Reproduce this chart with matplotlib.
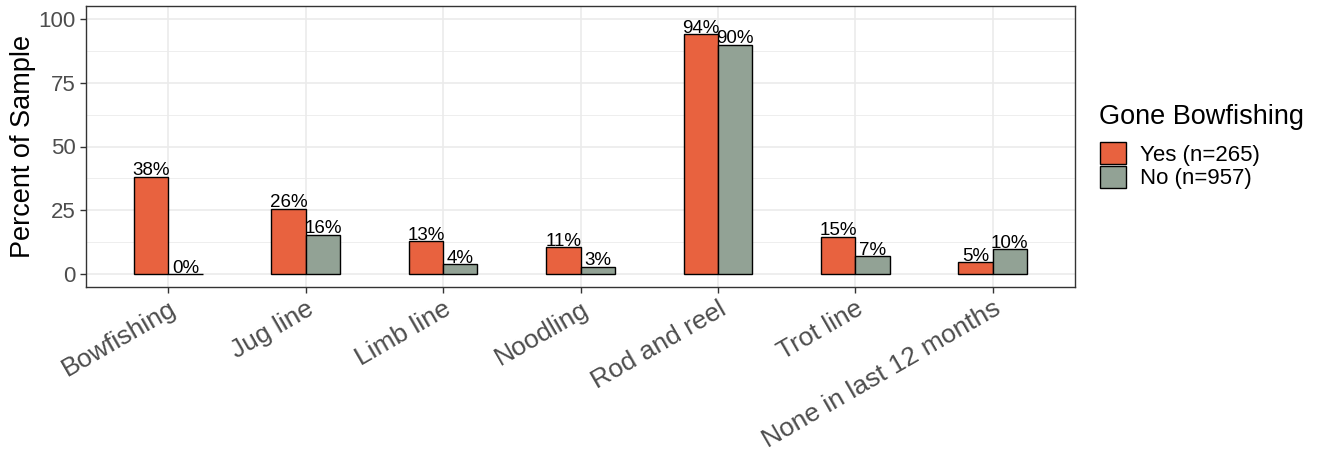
import matplotlib
matplotlib.use("Agg")
import matplotlib.pyplot as plt
import numpy as np
from matplotlib.patches import Patch
from matplotlib.ticker import MultipleLocator

plt.rcParams['font.family'] = ['Liberation Sans', 'DejaVu Sans']

categories = ["Bowfishing", "Jug line", "Limb line", "Noodling", "Rod and reel",
              "Trot line", "None in last 12 months"]
yes_vals = [38.1, 25.6, 12.9, 10.6, 94.0, 14.6, 4.8]
no_vals = [0.0, 15.5, 3.9, 2.9, 89.8, 7.1, 9.8]
series_labels = ["Yes (n=265)", "No (n=957)"]
legend_title = "Gone Bowfishing"
colors = ["#E8623F", "#92A295"]

fig = plt.figure(figsize=(13.25, 4.54), dpi=100)
ax = fig.add_axes([86/1325, 1-287/454, (1075-86)/1325, (287-6)/454])

x = np.arange(len(categories))
w = 0.25
for vals, off, c in [(yes_vals, -w/2, colors[0]), (no_vals, w/2, colors[1])]:
    ax.bar(x + off, vals, width=w, color=c, edgecolor="black", linewidth=1.0, zorder=3)
    for xi, v in zip(x + off, vals):
        ax.text(xi, v - 1.0, f"{round(v):d}%", ha="center", va="bottom",
                fontsize=13.5, color="black", zorder=4)

ax.set_xlim(-0.6, len(categories) - 0.4)
ax.set_ylim(-5, 105)
ax.yaxis.set_major_locator(MultipleLocator(25))
ax.yaxis.set_minor_locator(MultipleLocator(12.5))
ax.set_xticks(x)
ax.set_xticklabels(categories, rotation=30, ha="right", rotation_mode="anchor",
                   fontsize=19, color="#4D4D4D")
ax.tick_params(axis="y", labelsize=16, colors="#333333", length=4, width=1)
ax.tick_params(axis="x", length=4, width=1, colors="#333333", pad=3)
for lab in ax.get_xticklabels():
    lab.set_color("#4D4D4D")
for lab in ax.get_yticklabels():
    lab.set_color("#4D4D4D")
ax.tick_params(axis="y", which="minor", length=0)

ax.grid(True, which="major", color="#EBEBEB", linewidth=1.2, zorder=0)
ax.grid(True, which="minor", axis="y", color="#EBEBEB", linewidth=0.6, zorder=0)
ax.set_axisbelow(True)
for s in ax.spines.values():
    s.set_color("#333333")
    s.set_linewidth(1.0)

ax.set_ylabel("Percent of Sample", fontsize=19.5, color="black", labelpad=1.5)

fig.text(1099/1325, 1-117/454, legend_title, fontsize=19.5, ha="left", va="center",
         color="black")
handles = [Patch(facecolor=colors[0], edgecolor="black", linewidth=1.0),
           Patch(facecolor=colors[1], edgecolor="black", linewidth=1.0)]
leg = fig.legend(handles, series_labels,
                 loc="upper left", bbox_to_anchor=(1100/1325, 1-142/454),
                 frameon=False, fontsize=16,
                 handlelength=1.15, handleheight=1.15, handletextpad=0.65,
                 labelspacing=0.0, borderaxespad=0, borderpad=0)

fig.savefig("out.png", dpi=100)
